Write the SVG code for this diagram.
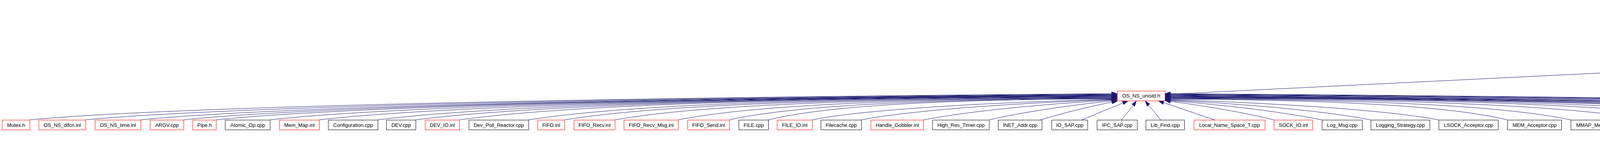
<svg xmlns="http://www.w3.org/2000/svg" width="6384" height="411" viewBox="0 0 6384 411">
<style>
.n rect{fill:#ffffff;stroke:#000000;stroke-width:1}
.n.r rect{stroke:#ff0000}
.n.g rect{fill:#bfbfbf}
.n text{font-family:"Liberation Sans",Arial,Helvetica,sans-serif;font-size:13px;text-anchor:middle;fill:#000000}
.e path{fill:none;stroke:#191970;stroke-width:1;marker-end:url(#a)}
</style>
<defs>
<marker id="a" markerUnits="userSpaceOnUse" markerWidth="14" markerHeight="10" refX="13" refY="4.5" orient="auto" overflow="visible">
<path d="M0,0 L13,4.5 L0,9 z" fill="#191970" stroke="#191970" stroke-width="1"/>
</marker>
</defs>
<rect x="0" y="0" width="6384" height="411" fill="#ffffff"/>
<g id="edges" class="e">
<path d="M76,306 C399,275 1398,250 2859,239"/>
<path d="M219,306 C525,276 1473,250 2859,240"/>
<path d="M360,306 C650,276 1547,251 2859,241"/>
<path d="M470,306 C747,276 1571,251 2859,242"/>
<path d="M553,306 C821,277 1593,251 2859,243"/>
<path d="M691,306 C943,277 1631,251 2859,244"/>
<path d="M817,306 C1054,278 1670,251 2859,244"/>
<path d="M967,306 C1187,278 1722,250 2859,245"/>
<path d="M1064,306 C1272,279 1759,250 2859,246"/>
<path d="M1176,306 C1371,279 1804,250 2859,247"/>
<path d="M1353,306 C1528,279 1880,250 2859,248"/>
<path d="M1445,306 C1609,280 1940,251 2859,249"/>
<path d="M1574,306 C1723,280 2024,252 2859,250"/>
<path d="M1736,306 C1866,281 2129,252 2859,251"/>
<path d="M1867,306 C1982,281 2214,253 2859,252"/>
<path d="M1967,306 C2071,281 2279,254 2859,252"/>
<path d="M2079,306 C2192,283 2470,263 2859,253"/>
<path d="M2205,306 C2319,284 2550,265 2859,254"/>
<path d="M2364,306 C2470,286 2642,267 2859,255"/>
<path d="M2532,306 C2615,287 2727,270 2859,256"/>
<path d="M2664,306 C2720,289 2787,272 2860,258"/>
<path d="M2768,307 C2810,289 2855,271 2887,258"/>
<path d="M2870,307 C2885,290 2898,273 2909,258"/>
<path d="M2972,307 C2958,290 2944,273 2932,258"/>
<path d="M3110,306 C3060,290 3010,272 2966,258"/>
<path d="M3261,306 C3187,288 3092,271 2983,257"/>
<path d="M3384,306 C3289,287 3151,269 2983,256"/>
<path d="M3509,306 C3401,285 3217,267 2983,255"/>
<path d="M3683,306 C3568,284 3320,265 2983,254"/>
<path d="M3859,306 C3757,282 3552,255 2983,253"/>
<path d="M4021,306 C3901,281 3658,254 2983,252"/>
<path d="M4221,306 C4077,281 3788,253 2983,251"/>
<path d="M4392,306 C4229,280 3899,252 2983,250"/>
<path d="M4547,306 C4366,280 3987,252 2983,249"/>
<path d="M4755,306 C4549,280 4075,252 2983,249"/>
<path d="M4845,306 C4629,279 4110,252 2983,248"/>
<path d="M5024,306 C4787,279 4172,253 2983,247"/>
<path d="M5168,306 C4915,278 4216,253 2983,246"/>
<path d="M5331,306 C5059,278 4260,253 2983,245"/>
<path d="M5499,306 C5207,277 4304,254 2983,244"/>
<path d="M5656,306 C5346,277 4386,253 2983,243"/>
<path d="M5811,306 C5483,277 4468,252 2983,242"/>
<path d="M5968,306 C5622,276 4550,251 2983,241"/>
<path d="M6125,306 C5761,276 4633,251 2983,240"/>
<path d="M6200,306 C5827,275 4672,250 2983,239"/>
<path d="M2982,241 L4392,172"/>
<path d="M4519,166 L6069,98"/>
<path d="M6152,82 L6152,33"/>
<path d="M6152,306 L6152,108"/>
<path d="M6280,306 L6160,108"/>
<path d="M5923,391 C5500,380 4900,360 4524,332"/>
<path d="M5923,386 C5800,374 5600,350 5478,331"/>
<path d="M5942,380 L5896,333"/>
<path d="M5970,380 L6017,333"/>
<path d="M5989,379 L6125,328"/>
<path d="M5989,383 L6230,332"/>
</g>
<g id="n_os_utsname_h" class="n g"><rect x="6097.5" y="7.5" width="107" height="25"/><text x="6151" y="24">os_utsname.h</text></g>
<g id="n_OS_NS_sys_utsname_h" class="n"><rect x="6069.5" y="82.5" width="164" height="25"/><text x="6151.5" y="99">OS_NS_sys_utsname.h</text></g>
<g id="n_OS_NS_unistd_inl" class="n"><rect x="4392.5" y="156.5" width="127" height="25"/><text x="4456" y="173.5">OS_NS_unistd.inl</text></g>
<g id="n_OS_NS_unistd_h" class="n r"><rect x="2860.5" y="232.5" width="122" height="25"/><text x="2921.5" y="249">OS_NS_unistd.h</text></g>
<g id="n_OS_cpp" class="n"><rect x="5923.5" y="380.5" width="66" height="25"/><text x="5956.5" y="397">OS.cpp</text></g>
<g id="n1" class="n r"><rect x="5.5" y="306.5" width="71" height="25"/><text x="41" y="324">Mutex.h</text></g>
<g id="n2" class="n r"><rect x="99.5" y="306.5" width="120" height="25"/><text x="159.5" y="324">OS_NS_dlfcn.inl</text></g>
<g id="n3" class="n r"><rect x="243.5" y="306.5" width="117" height="25"/><text x="302" y="324">OS_NS_time.inl</text></g>
<g id="n4" class="n r"><rect x="384.5" y="306.5" width="86" height="25"/><text x="427.5" y="324">ARGV.cpp</text></g>
<g id="n5" class="n r"><rect x="493.5" y="306.5" width="60" height="25"/><text x="523.5" y="324">Pipe.h</text></g>
<g id="n6" class="n"><rect x="576.5" y="306.5" width="115" height="25"/><text x="634" y="324">Atomic_Op.cpp</text></g>
<g id="n7" class="n r"><rect x="715.5" y="306.5" width="102" height="25"/><text x="766.5" y="324">Mem_Map.inl</text></g>
<g id="n8" class="n"><rect x="840.5" y="306.5" width="127" height="25"/><text x="904" y="324">Configuration.cpp</text></g>
<g id="n9" class="n"><rect x="989.5" y="306.5" width="75" height="25"/><text x="1027" y="324">DEV.cpp</text></g>
<g id="n10" class="n r"><rect x="1088.5" y="306.5" width="88" height="25"/><text x="1132.5" y="324">DEV_IO.inl</text></g>
<g id="n11" class="n"><rect x="1200.5" y="306.5" width="153" height="25"/><text x="1277" y="324">Dev_Poll_Reactor.cpp</text></g>
<g id="n12" class="n r"><rect x="1376.5" y="306.5" width="69" height="25"/><text x="1411" y="324">FIFO.inl</text></g>
<g id="n13" class="n r"><rect x="1469.5" y="306.5" width="105" height="25"/><text x="1522" y="324">FIFO_Recv.inl</text></g>
<g id="n14" class="n r"><rect x="1597.5" y="306.5" width="139" height="25"/><text x="1667" y="324">FIFO_Recv_Msg.inl</text></g>
<g id="n15" class="n r"><rect x="1760.5" y="306.5" width="107" height="25"/><text x="1814" y="324">FIFO_Send.inl</text></g>
<g id="n16" class="n"><rect x="1891.5" y="306.5" width="76" height="25"/><text x="1929.5" y="324">FILE.cpp</text></g>
<g id="n17" class="n r"><rect x="1989.5" y="306.5" width="90" height="25"/><text x="2034.5" y="324">FILE_IO.inl</text></g>
<g id="n18" class="n"><rect x="2101.5" y="306.5" width="104" height="25"/><text x="2153.5" y="324">Filecache.cpp</text></g>
<g id="n19" class="n r"><rect x="2229.5" y="306.5" width="135" height="25"/><text x="2297" y="324">Handle_Gobbler.inl</text></g>
<g id="n20" class="n"><rect x="2387.5" y="306.5" width="145" height="25"/><text x="2460" y="324">High_Res_Timer.cpp</text></g>
<g id="n21" class="n"><rect x="2555.5" y="306.5" width="112" height="25"/><text x="2611.5" y="324">INET_Addr.cpp</text></g>
<g id="n22" class="n"><rect x="2692.5" y="306.5" width="92" height="25"/><text x="2738.5" y="324">IO_SAP.cpp</text></g>
<g id="n23" class="n"><rect x="2808.5" y="306.5" width="103" height="25"/><text x="2860" y="324">IPC_SAP.cpp</text></g>
<g id="n24" class="n"><rect x="2933.5" y="306.5" width="99" height="25"/><text x="2983" y="324">Lib_Find.cpp</text></g>
<g id="n25" class="n r"><rect x="3056.5" y="306.5" width="182" height="25"/><text x="3147.5" y="324">Local_Name_Space_T.cpp</text></g>
<g id="n26" class="n r"><rect x="3261.5" y="306.5" width="99" height="25"/><text x="3311" y="324">SOCK_IO.inl</text></g>
<g id="n27" class="n"><rect x="3384.5" y="306.5" width="103" height="25"/><text x="3436" y="324">Log_Msg.cpp</text></g>
<g id="n28" class="n"><rect x="3509.5" y="306.5" width="151" height="25"/><text x="3585" y="324">Logging_Strategy.cpp</text></g>
<g id="n29" class="n"><rect x="3683.5" y="306.5" width="152" height="25"/><text x="3759.5" y="324">LSOCK_Acceptor.cpp</text></g>
<g id="n30" class="n"><rect x="3859.5" y="306.5" width="138" height="25"/><text x="3928.5" y="324">MEM_Acceptor.cpp</text></g>
<g id="n31" class="n"><rect x="4021.5" y="306.5" width="178" height="25"/><text x="4110.5" y="324">MMAP_Memory_Pool.cpp</text></g>
<g id="n32" class="n"><rect x="4221.5" y="306.5" width="147" height="25"/><text x="4295" y="324">Naming_Context.cpp</text></g>
<g id="n33" class="n"><rect x="4392.5" y="306.5" width="131" height="25"/><text x="4458" y="324">OS_NS_stdlib.cpp</text></g>
<g id="n34" class="n"><rect x="4547.5" y="306.5" width="185" height="25"/><text x="4640" y="324">Pagefile_Memory_Pool.cpp</text></g>
<g id="n35" class="n r"><rect x="4755.5" y="306.5" width="68" height="25"/><text x="4789.5" y="324">ACE.inl</text></g>
<g id="n36" class="n r"><rect x="4845.5" y="306.5" width="156" height="25"/><text x="4923.5" y="324">OS_NS_sys_mman.inl</text></g>
<g id="n37" class="n r"><rect x="5024.5" y="306.5" width="120" height="25"/><text x="5084.5" y="324">OS_NS_stdio.inl</text></g>
<g id="n38" class="n r"><rect x="5168.5" y="306.5" width="140" height="25"/><text x="5238.5" y="324">OS_NS_sys_stat.inl</text></g>
<g id="n39" class="n"><rect x="5331.5" y="306.5" width="145" height="25"/><text x="5404" y="324">OS_NS_sys_uio.cpp</text></g>
<g id="n40" class="n r"><rect x="5499.5" y="306.5" width="134" height="25"/><text x="5566.5" y="324">OS_NS_Thread.inl</text></g>
<g id="n41" class="n r"><rect x="5656.5" y="306.5" width="133" height="25"/><text x="5723" y="324">OS_NS_stropts.inl</text></g>
<g id="n42" class="n"><rect x="5811.5" y="306.5" width="135" height="25"/><text x="5879" y="324">OS_NS_unistd.cpp</text></g>
<g id="n43" class="n"><rect x="5968.5" y="306.5" width="133" height="25"/><text x="6035" y="324">OS_NS_netdb.cpp</text></g>
<g id="n44" class="n"><rect x="6125.5" y="306.5" width="52" height="25"/><text x="6151.5" y="324">OS.h</text></g>
<g id="n45" class="n"><rect x="6200.5" y="306.5" width="179" height="25"/><text x="6290" y="324">OS_NS_sys_utsname.cpp</text></g>
</svg>
